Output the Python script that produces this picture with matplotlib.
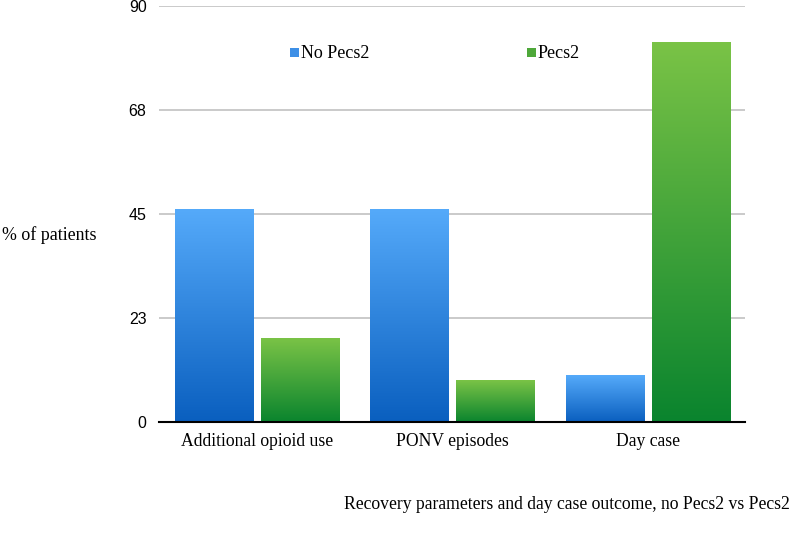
import matplotlib
matplotlib.use("Agg")
import matplotlib.pyplot as plt
from matplotlib.colors import LinearSegmentedColormap
import numpy as np

categories = ["Additional opioid use", "PONV episodes", "Day case"]
no_pecs2   = [46, 46, 10]
pecs2      = [18, 9, 82]
series     = ["No Pecs2", "Pecs2"]
y_ticks    = [0, 22.5, 45, 67.5, 90]
y_labels   = ["0", "23", "45", "68", "90"]

blue_cmap  = LinearSegmentedColormap.from_list("blue", ["#0a5fbf", "#55aafa"])
green_cmap = LinearSegmentedColormap.from_list("green", ["#0a842e", "#7ac346"])

fig = plt.figure(figsize=(7.94, 5.36), dpi=100)
ax = fig.add_axes([0.2003, 0.2127, 0.7385, 0.7763])

x = np.arange(len(categories))
width = 0.4
gap = 0.02
grad = np.linspace(0, 1, 256).reshape(-1, 1)

bars_a = ax.bar(x - width/2 - gap, no_pecs2, width, color="none", label=series[0])
bars_b = ax.bar(x + width/2 + gap, pecs2, width, color="none", label=series[1])

for bars, cmap in ((bars_a, blue_cmap), (bars_b, green_cmap)):
	for b in bars:
		x0 = b.get_x()
		x1 = x0 + b.get_width()
		h = b.get_height()
		ax.imshow(grad, extent=[x0, x1, 0, h], origin="lower", cmap=cmap,
				  aspect="auto", zorder=3, interpolation="bilinear")

ax.set_xlim(-0.5, len(categories) - 0.5)
ax.set_ylim(0, 90)
ax.set_yticks(y_ticks)
ax.set_yticklabels(y_labels, fontfamily="Liberation Sans", fontsize=11.5)
ax.set_xticks(x)
ax.set_xticklabels(categories, fontfamily="Liberation Serif", fontsize=12.7)
ax.tick_params(axis="x", length=0, pad=8)
ax.tick_params(axis="y", length=0, pad=9)
ax.yaxis.grid(True, color="#c6c6c6", linewidth=1.3)
ax.set_axisbelow(True)
for s in ["left", "right", "top"]:
	ax.spines[s].set_visible(False)
ax.spines["bottom"].set_color("black")
ax.spines["bottom"].set_linewidth(1.5)
ax.spines["bottom"].set_zorder(4)

fig.text(0.003, 0.562, "% of patients", fontfamily="Liberation Serif", fontsize=12.9,
		 ha="left", va="center")
fig.text(0.995, 0.058, "Recovery parameters and day case outcome, no Pecs2 vs Pecs2",
		 fontfamily="Liberation Serif", fontsize=12.7, ha="right", va="center")

# legend
fig.patches.append(plt.Rectangle((0.3655, 0.893), 0.0113, 0.0168, transform=fig.transFigure,
								 facecolor="#3d8fe6", edgecolor="none"))
fig.text(0.379, 0.901, series[0], fontfamily="Liberation Serif", fontsize=13, va="center")
fig.patches.append(plt.Rectangle((0.6635, 0.893), 0.0113, 0.0168, transform=fig.transFigure,
								 facecolor="#4ea83a", edgecolor="none"))
fig.text(0.677, 0.901, series[1], fontfamily="Liberation Serif", fontsize=13, va="center")

fig.savefig("out.png", dpi=100)
plt.close()
